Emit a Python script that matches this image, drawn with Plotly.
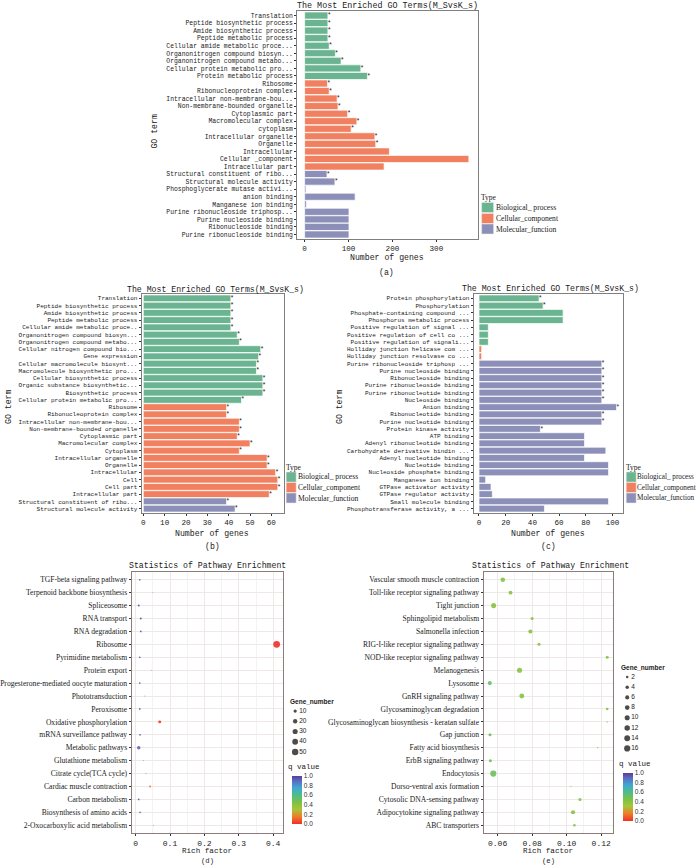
import plotly.graph_objects as go

W, H = 700, 866
SERIF = "Liberation Serif"
MONO = "Liberation Mono"
SANS = "Liberation Sans"
TXT = "#1a1a1a"

TYPE_NAMES = ["Biological_ process", "Cellular_component", "Molecular_function"]
TYPE_COLORS = {"BP": "#6AB491", "CC": "#F08060", "MF": "#8C90B8"}

# ---------------- panel (a) ----------------
a_terms = ["Translation", "Peptide biosynthetic process", "Amide biosynthetic process",
           "Peptide metabolic process", "Cellular amide metabolic proce...",
           "Organonitrogen compound biosyn...", "Organonitrogen compound metabo...",
           "Cellular protein metabolic pro...", "Protein metabolic process",
           "Ribosome", "Ribonucleoprotein complex", "Intracellular non-membrane-bou...",
           "Non-membrane-bounded organelle", "Cytoplasmic part", "Macromolecular complex",
           "cytoplasm", "Intracellular organelle", "Organelle", "Intracellular",
           "Cellular _component", "Intracellular part",
           "Structural constituent of ribo...", "Structural molecule activity",
           "Phosphoglycerate mutase activi...", "anion binding", "Manganese ion binding",
           "Purine ribonucleoside triphosp...", "Purine nucleoside binding",
           "Ribonucleoside binding", "Purine ribonucleoside binding"]
a_counts = [53, 53, 53, 53, 56, 70, 83, 128, 143,
            52, 56, 74, 76, 98, 119, 106, 160, 162, 193, 374, 181,
            51, 69, 3, 115, 4, 101, 101, 101, 101]
a_types = ["BP"] * 9 + ["CC"] * 12 + ["MF"] * 9
a_sig = [1, 1, 1, 1, 1, 1, 1, 1, 1,
         1, 1, 1, 1, 1, 1, 1, 1, 1, 0, 0, 0,
         1, 1, 0, 0, 0, 0, 0, 0, 0]

# ---------------- panel (b) ----------------
b_terms = ["Translation", "Peptide biosynthetic process", "Amide biosynthetic process",
           "Peptide metabolic process", "Cellular amide metabolic proce..",
           "Organonitrogen compound biosyn...", "Organonitrogen compound metabo...",
           "Cellular nitrogen compound bio...", "Gene expression",
           "Cellular macromolecule biosynt...", "Macromolecule biosynthetic pro...",
           "Cellular biosynthetic process", "Organic substance biosynthetic...",
           "Biosynthetic process", "Cellular protein metabolic pro...",
           "Ribosome", "Ribonucleoprotein complex", "Intracellular non-membrane-bou...",
           "Non-membrane-bounded organelle", "Cytoplasmic part", "Macromolecular complex",
           "Cytoplasm", "Intracellular organelle", "Organelle", "Intracellular", "Cell",
           "Cell part", "Intracellular part",
           "Structural constituent of ribo...", "Structural molecule activity"]
b_counts = [41, 41, 41, 41, 41, 44, 45, 55, 54, 53, 53, 56, 56, 56, 46,
            39, 39, 45, 45, 44, 50, 45, 58, 58, 62, 63, 63, 59,
            39, 43]
b_types = ["BP"] * 15 + ["CC"] * 13 + ["MF"] * 2
b_sig = [1] * 30

# ---------------- panel (c) ----------------
c_terms = ["Protein phosphorylation", "Phosphorylation", "Phosphate-containing compound ...",
           "Phosphorus metabolic process", "Positive regulation of signal ...",
           "Positive regulation of cell co ...", "Positive regulation of signali...",
           "Holliday junction helicase com ...", "Holliday junction resolvase co ...",
           "Purine ribonucleoside triphosp ...", "Purine nucleoside binding",
           "Ribonucleoside binding", "Purine ribonucleoside binding",
           "Purine ribonucleotide binding", "Nucleoside binding", "Anion binding",
           "Ribonucleotide binding", "Purine nucleotide binding", "Protein kinase activity",
           "ATP binding", "Adenyl ribonucleotide binding", "Carbohydrate derivative bindin ...",
           "Adenyl nucleotide binding", "Nucleotide binding", "Nucleoside phosphate binding",
           "Manganese ion binding", "GTPase activator activity", "GTPase regulator activity",
           "Small molecule binding", "Phosphotransferase activity, a ..."]
c_counts = [45, 48, 63, 63, 7, 7, 7, 2, 2,
            92, 92, 92, 92, 92, 92, 103, 92, 92, 46, 79, 79, 95, 79, 97, 97, 5, 9, 10, 97, 49]
c_types = ["BP"] * 7 + ["CC"] * 2 + ["MF"] * 21
c_sig = [1, 1, 0, 0, 0, 0, 0, 0, 0,
         1, 1, 1, 1, 1, 1, 1, 1, 1, 1, 0, 0, 0, 0, 0, 0, 0, 0, 0, 0, 0]

# ---------------- panel (d) ----------------
d_paths = ["TGF-beta signaling pathway", "Terpenoid backbone biosynthesis", "Spliceosome",
           "RNA transport", "RNA degradation", "Ribosome", "Pyrimidine metabolism",
           "Protein export", "Progesterone-mediated oocyte maturation", "Phototransduction",
           "Peroxisome", "Oxidative phosphorylation", "mRNA surveillance pathway",
           "Metabolic pathways", "Glutathione metabolism", "Citrate cycle(TCA cycle)",
           "Cardiac muscle contraction", "Carbon metabolism", "Biosynthesis of amino acids",
           "2-Oxocarboxylic acid metabolism"]
d_rich = [0.012, 0.050, 0.009, 0.015, 0.015, 0.410, 0.012, 0.047, 0.012, 0.027,
          0.012, 0.070, 0.013, 0.009, 0.023, 0.030, 0.042, 0.009, 0.013, 0.052]
d_genes = [2, 1, 3, 3, 2, 57, 2, 1, 2, 1, 2, 8, 2, 11, 1, 1, 3, 2, 2, 1]
d_q = [0.95, 0.85, 0.95, 0.95, 0.95, 0.0, 0.95, 0.9, 0.95, 0.95,
       0.95, 0.02, 0.95, 0.92, 0.95, 0.95, 0.15, 0.95, 0.95, 0.9]
d_size_breaks = [10, 20, 30, 40, 50]

# ---------------- panel (e) ----------------
e_paths = ["Vascular smooth muscle contraction", "Toll-like receptor signaling pathway",
           "Tight junction", "Sphingolipid metabolism", "Salmonella infection",
           "RIG-I-like receptor signaling pathway", "NOD-like receptor signaling pathway",
           "Melanogenesis", "Lysosome", "GnRH signaling pathway",
           "Glycosaminoglycan degradation", "Glycosaminoglycan biosynthesis - keratan sulfate",
           "Gap junction", "Fatty acid biosynthesis", "ErbB signaling pathway", "Endocytosis",
           "Dorso-ventral axis formation", "Cytosolic DNA-sensing pathway",
           "Adipocytokine signaling pathway", "ABC transporters"]
e_rich = [0.063, 0.0675, 0.0577, 0.080, 0.079, 0.084, 0.1235, 0.0727, 0.0555, 0.074,
          0.1235, 0.1235, 0.0556, 0.118, 0.0558, 0.0575, 0.1025, 0.1077, 0.1037, 0.1045]
e_genes = [8, 5, 10, 3, 6, 3, 3, 10, 6, 9, 2, 1, 3, 1, 3, 16, 1, 3, 6, 2]
e_q = [0.42, 0.42, 0.42, 0.42, 0.42, 0.42, 0.42, 0.42, 0.52, 0.42,
       0.45, 0.5, 0.5, 0.5, 0.5, 0.5, 0.45, 0.45, 0.42, 0.45]
e_size_breaks = [2, 4, 6, 8, 10, 12, 14, 16]

QSCALE = [[0.0, "#F0302A"], [0.15, "#F07A28"], [0.3, "#A8C43A"], [0.45, "#7DC242"],
          [0.6, "#4DBD8A"], [0.75, "#3FA9D2"], [0.9, "#5B6BC0"], [1.0, "#5B3C99"]]


def fx(px):
    return px / W


def fy(py):
    return 1 - py / H


def gg_size(v, vmin, vmax, smin, smax):
    return smin + (smax - smin) * ((max(v, vmin) - vmin) / (vmax - vmin)) ** 0.5


fig = go.Figure()
annotations = []
shapes = []


def ann(x, y, text, size, family=MONO, xanchor="center", angle=0, color=TXT):
    annotations.append(dict(x=fx(x), y=fy(y), xref="paper", yref="paper", text=text,
                            showarrow=False, xanchor=xanchor, yanchor="middle",
                            borderpad=0, borderwidth=0,
                            textangle=angle, font=dict(size=size, family=family, color=color)))


def bar_panel(i, terms, counts, types, sig, xr, xdom, ydom, fsize, tickvals):
    ax = "" if i == 1 else str(i)
    fig.add_trace(go.Bar(x=counts, y=terms, orientation="h",
                         marker=dict(color=[TYPE_COLORS[t] for t in types],
                                     line=dict(color="white", width=0.7)),
                         xaxis="x" + ax, yaxis="y" + ax, hoverinfo="x+y"))
    sx = [c for c, s in zip(counts, sig) if s]
    sy = [t for t, s in zip(terms, sig) if s]
    fig.add_trace(go.Scatter(x=sx, y=sy, mode="text", text=["*"] * len(sx),
                             textposition="middle right",
                             textfont=dict(size=6.5, color=TXT, family=SANS),
                             xaxis="x" + ax, yaxis="y" + ax, hoverinfo="skip"))
    n = len(terms)
    fig.update_layout(**{
        "xaxis" + ax: dict(domain=[fx(xdom[0]), fx(xdom[1])], range=xr, anchor="y" + ax,
                           showline=True, mirror=True, linecolor="#7F7F7F", linewidth=1,
                           ticks="outside", ticklen=2, tickcolor="#333", tickwidth=0.8,
                           tickvals=tickvals, showgrid=False, zeroline=False,
                           tickfont=dict(size=7.6, family=MONO, color=TXT)),
        "yaxis" + ax: dict(domain=[fy(ydom[1]), fy(ydom[0])], anchor="x" + ax,
                           type="category", categoryorder="array", categoryarray=terms,
                           tickmode="array", tickvals=terms, ticktext=terms,
                           range=[n - 1 + 0.6, -0.6], showline=True, mirror=True,
                           linecolor="#7F7F7F", linewidth=1, ticks="outside", ticklen=2,
                           tickcolor="#333", tickwidth=0.8, showgrid=False,
                           tickfont=dict(size=fsize, family=MONO, color=TXT)),
    })


bar_panel(1, a_terms, a_counts, a_types, a_sig, [-17, 394], (296, 477), (11, 239), 6.4,
          [0, 100, 200, 300])
bar_panel(2, b_terms, b_counts, b_types, b_sig, [-0.8, 66], (140, 283), (294, 513), 6.0,
          [0, 10, 20, 30, 40, 50, 60])
bar_panel(3, c_terms, c_counts, c_types, c_sig, [-4, 108], (473, 623), (294, 513), 6.0,
          [0, 20, 40, 60, 80, 100])


def type_legend(tx, ty, kx, kw, centers, textx, fsize):
    ann(tx, ty, "Type", 7.5, SERIF, "left")
    for name, code, cy in zip(TYPE_NAMES, ["BP", "CC", "MF"], centers):
        shapes.append(dict(type="rect", xref="paper", yref="paper",
                           x0=fx(kx), x1=fx(kx + kw), y0=fy(cy + 5), y1=fy(cy - 5),
                           fillcolor=TYPE_COLORS[code], line=dict(color="#EDEDED", width=0.5)))
        ann(textx, cy, name, fsize, SERIF, "left")


type_legend(480, 197, 481, 12, [207.5, 218.5, 229], 495, 7.6)
type_legend(285, 467, 285, 10, [477, 487.5, 498], 297, 7.6)
type_legend(626, 467, 626, 10, [477, 487.5, 498], 637, 7.2)


def dot_panel(i, paths, rich, genes, q, xr, xdom, ydom, tickvals, ticktext, minor_vals,
              cax, smin, smax, gmin, gmax):
    ax = str(i)
    fig.add_trace(go.Scatter(x=rich, y=paths, mode="markers",
                             marker=dict(size=[gg_size(g, gmin, gmax, smin, smax) for g in genes],
                                         color=q, coloraxis=cax, line=dict(width=0), opacity=0.9),
                             xaxis="x" + ax, yaxis="y" + ax, hoverinfo="x+y"))
    n = len(paths)
    fig.update_layout(**{
        "xaxis" + ax: dict(domain=[fx(xdom[0]), fx(xdom[1])], range=xr, anchor="y" + ax,
                           showline=True, mirror=True, linecolor="#8C7D7D", linewidth=1,
                           ticks="outside", ticklen=2, tickcolor="#333", tickwidth=0.8,
                           tickvals=tickvals, ticktext=ticktext, zeroline=False,
                           showgrid=True, gridcolor="#EEE8E8", gridwidth=0.7,
                           minor=dict(tickvals=minor_vals, showgrid=True, gridcolor="#F5F2F2",
                                      gridwidth=0.5, ticks=""),
                           tickfont=dict(size=8, family=MONO, color=TXT)),
        "yaxis" + ax: dict(domain=[fy(ydom[1]), fy(ydom[0])], anchor="x" + ax,
                           type="category", categoryorder="array", categoryarray=paths,
                           tickmode="array", tickvals=paths, ticktext=paths,
                           range=[n - 1 + 0.6, -0.6], showline=True, mirror=True,
                           linecolor="#8C7D7D", linewidth=1, ticks="outside", ticklen=2,
                           tickcolor="#333", tickwidth=0.8, showgrid=True,
                           gridcolor="#EEE8E8", gridwidth=0.7,
                           tickfont=dict(size=7.6, family=SERIF, color=TXT)),
    })


dot_panel(4, d_paths, d_rich, d_genes, d_q, [-0.0116, 0.429], (130, 282), (572, 833),
          [0, 0.1, 0.2, 0.3, 0.4], ["0", "0.1", "0.2", "0.3", "0.4"],
          [0.05, 0.15, 0.25, 0.35], "coloraxis", 0.9, 6.8, 1, 57)
dot_panel(5, e_paths, e_rich, e_genes, e_q, [0.0519, 0.127], (483, 613), (572, 833),
          [0.06, 0.08, 0.10, 0.12], ["0.06", "0.08", "0.10", "0.12"],
          [0.05, 0.07, 0.09, 0.11], "coloraxis2", 1.2, 6.2, 1, 16)


def size_legend(i, breaks, title_xy, key_x, top, step, gmin, gmax, smin, smax):
    ax = str(i)
    ann(title_xy[0], title_xy[1], "<b>Gene_number</b>", 6.5, SANS, "left")
    n = len(breaks)
    labels = [str(b) for b in breaks]
    fig.add_trace(go.Scatter(x=[0] * n, y=labels, mode="markers",
                             marker=dict(size=[gg_size(b, gmin, gmax, smin, smax) for b in breaks],
                                         color="black", line=dict(width=0)),
                             xaxis="x" + ax, yaxis="y" + ax, hoverinfo="skip"))
    fig.add_trace(go.Scatter(x=[4] * n, y=labels, mode="text", text=labels,
                             textposition="middle right",
                             textfont=dict(size=6.5, family=SANS, color="#222"),
                             xaxis="x" + ax, yaxis="y" + ax, hoverinfo="skip"))
    y0 = top - step / 2
    y1 = top + step * (n - 0.5)
    fig.update_layout(**{
        "xaxis" + ax: dict(domain=[fx(key_x - 6), fx(key_x + 20)], range=[-6, 20],
                           visible=False, anchor="y" + ax),
        "yaxis" + ax: dict(domain=[fy(y1), fy(y0)], range=[n - 0.5, -0.5], type="category",
                           categoryorder="array", categoryarray=labels,
                           visible=False, anchor="x" + ax),
    })


size_legend(6, d_size_breaks, (289, 701), 294, 711, 10.25, 1, 57, 0.9, 6.8)
size_legend(7, e_size_breaks, (621, 667), 627, 677, 10.2, 1, 16, 1.2, 6.2)

cb_common = dict(thickness=10, thicknessmode="pixels", lenmode="pixels", outlinewidth=0,
                 tickvals=[0, 0.2, 0.4, 0.6, 0.8, 1.0],
                 ticktext=["0.0", "0.2", "0.4", "0.6", "0.8", "1.0"],
                 tickfont=dict(size=6.5, family=SANS, color="#333"), ticks="",
                 xpad=0, ypad=0, xanchor="left", yanchor="bottom", len=48)
fig.update_layout(
    coloraxis=dict(colorscale=QSCALE, cmin=0, cmax=1,
                   colorbar=dict(x=fx(291), y=fy(824), **cb_common)),
    coloraxis2=dict(colorscale=QSCALE, cmin=0, cmax=1,
                    colorbar=dict(x=fx(623), y=fy(821), **cb_common)),
)
ann(287, 767, "q value", 7.5, MONO, "left")
ann(619, 764, "q value", 7.5, MONO, "left")

# titles and axis titles
GO_TITLE = "The Most Enriched GO Terms(M_SvsK_s)"
ann(387, 6, GO_TITLE, 8.4)
ann(214.5, 289, GO_TITLE, 8.2)
ann(550, 288, GO_TITLE, 8.2)
ann(206, 565, "Statistics of Pathway Enrichment", 8.2)
ann(550, 565, "Statistics of Pathway Enrichment", 8.2)
ann(386, 257, "Number of genes", 8.2)
ann(211, 533, "Number of genes", 8.2)
ann(548, 533, "Number of genes", 8.2)
ann(386, 272, "(a)", 8.2)
ann(211, 546, "(b)", 8.2)
ann(548, 546, "(c)", 8.2)
ann(153, 132, "GO term", 8.2, angle=-90)
ann(6, 407, "GO term", 8.2, angle=-90)
ann(338, 407, "GO term", 8.2, angle=-90)
ann(206, 850.5, "Rich factor", 7.6)
ann(548, 850.5, "Rich factor", 7.6)
ann(206, 860.5, "(d)", 7.2)
ann(548, 860.5, "(e)", 7.2)

fig.update_layout(width=W, height=H, margin=dict(l=0, r=0, t=0, b=0),
                  paper_bgcolor="white", plot_bgcolor="white", showlegend=False,
                  bargap=0.06, annotations=annotations, shapes=shapes)

fig.write_html("out.html", config={"displayModeBar": False},
               post_script="document.body.style.margin='0';document.body.style.overflow='hidden';")
